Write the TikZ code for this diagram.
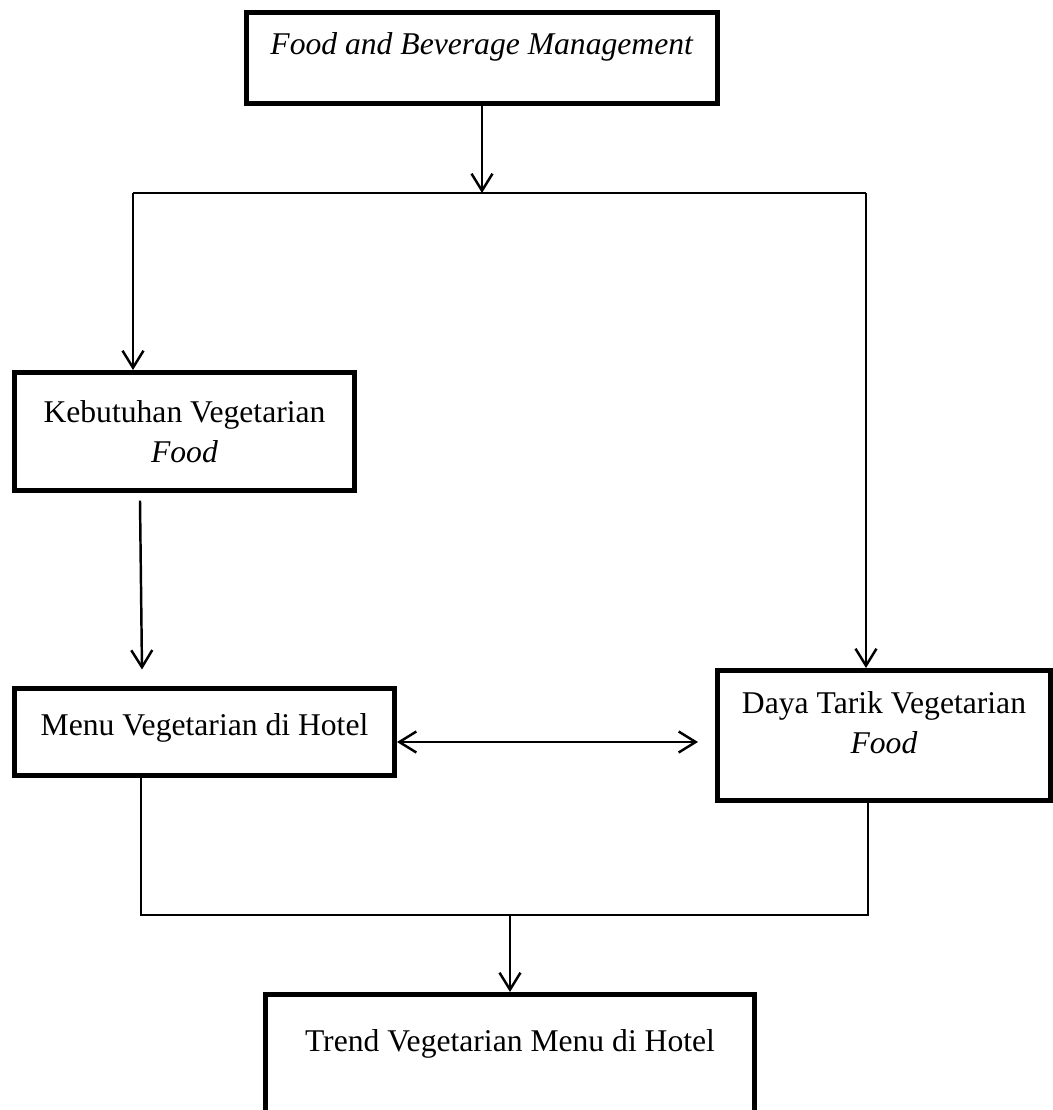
\documentclass[tikz,border=0pt]{standalone}
\usepackage{fontspec}
\setmainfont{Liberation Serif}
\usetikzlibrary{arrows.meta}

\tikzset{
  box/.style={draw, line width=0.05cm, align=center, inner sep=0pt,
    font=\fontsize{9}{11.4}\selectfont},
  link/.style={line width=0.5pt},
  arrow/.style={line width=0.7pt, -{Straight Barb[length=0.17cm,width=0.21cm]}},
  twoway/.style={line width=0.7pt,
    {Straight Barb[length=0.17cm,width=0.21cm]}-{Straight Barb[length=0.17cm,width=0.21cm]}}
}

\begin{document}
\begin{tikzpicture}
        \useasboundingbox (0,0) rectangle (10.53,-11.10);

        \node[box, minimum width=4.71cm, minimum height=0.91cm] (fbm) at (4.82,-0.58) {\textit{Food and Beverage Management}\\[-3pt]~};
        \node[box, minimum width=3.40cm, minimum height=1.18cm] (keb) at (1.845,-4.315) {Kebutuhan Vegetarian\\\textit{Food}};
        \node[box, minimum width=3.80cm, minimum height=0.87cm] (menu) at (2.045,-7.32) {Menu Vegetarian di Hotel\\[-7.4pt]~};
        \node[box, minimum width=3.33cm, minimum height=1.30cm] (daya) at (8.84,-7.355) {Daya Tarik Vegetarian\\\textit{Food}\\[-4pt]~};
        \node[box, minimum width=4.89cm, minimum height=1.33cm] (trend) at (5.10,-10.61) {Trend Vegetarian Menu di Hotel\\~};

        \coordinate (splitL) at (1.33,-1.93);
        \coordinate (splitR) at (8.66,-1.93);
        \coordinate (joinL) at (1.41,-9.15);
        \coordinate (joinR) at (8.68,-9.15);

        % top branch
        \draw[arrow] (fbm.south) -- (fbm.south |- splitL);
        \draw[link] (splitL) -- (splitR);
        \draw[arrow] (splitL) -- (splitL |- keb.north);
        \draw[arrow] (splitR) -- (splitR |- daya.north);

        \draw[arrow] ([xshift=-0.445cm,yshift=-0.075cm]keb.south) -- ([xshift=-0.625cm,yshift=0.165cm]menu.north);
        \draw[twoway, shorten >=0.17cm] ([yshift=-0.1cm]menu.east) -- ([yshift=-0.1cm]menu.east -| daya.west);

        % bottom join
        \draw[link] (menu.south -| joinL) -- (joinL) -- (joinR) -- (daya.south -| joinR);
        \draw[arrow] (trend.north |- joinL) -- (trend.north);
      \end{tikzpicture}
\end{document}
